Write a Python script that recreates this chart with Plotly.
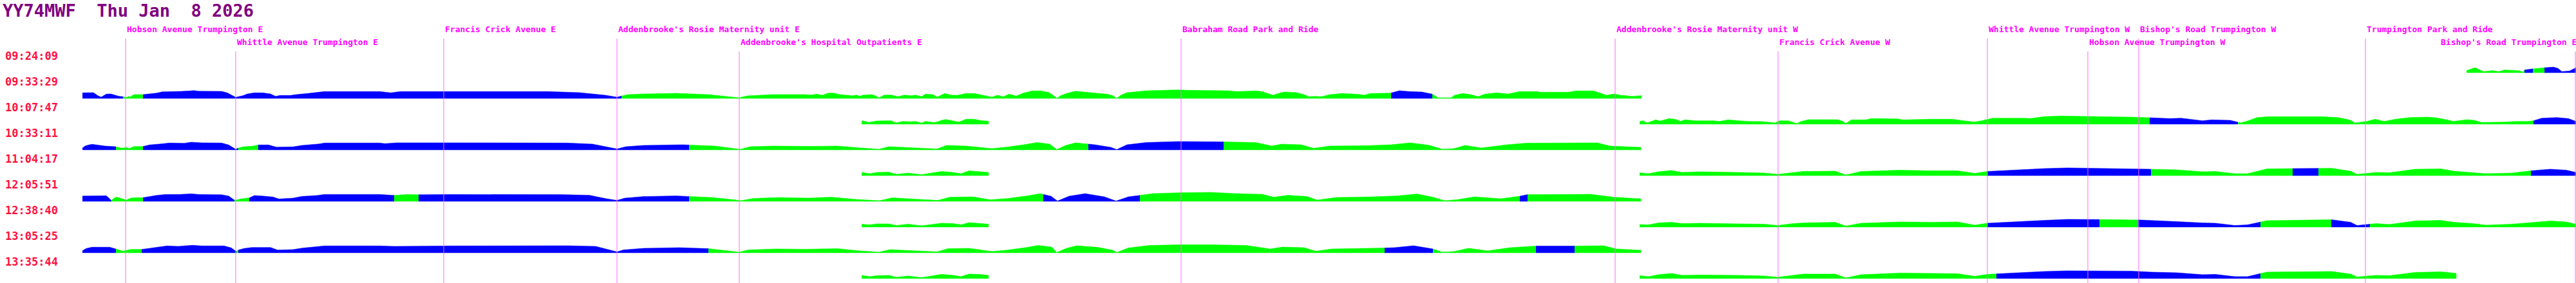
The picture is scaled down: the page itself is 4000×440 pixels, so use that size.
import numpy as np
import plotly.graph_objects as go

# vehicle / day header
title_text = "YY74MWF  Thu Jan  8 2026"

# stops along the route (position in route units, left to right)
stop_names = ["Hobson Avenue Trumpington E", "Whittle Avenue Trumpington E",
              "Francis Crick Avenue E", "Addenbrooke's Rosie Maternity unit E",
              "Addenbrooke's Hospital Outpatients E", "Babraham Road Park and Ride",
              "Addenbrooke's Rosie Maternity unit W", "Francis Crick Avenue W",
              "Whittle Avenue Trumpington W", "Hobson Avenue Trumpington W",
              "Bishop's Road Trumpington W", "Trumpington Park and Ride",
              "Bishop's Road Trumpington E"]
stop_pos = [195, 366, 689, 958, 1148, 1834, 2508, 2761, 3086, 3242, 3321, 3673, 3999]

# trip start times, one row each
trip_times = ["09:24:09", "09:33:29", "10:07:47", "10:33:11", "11:04:17",
              "12:05:51", "12:38:40", "13:05:25", "13:35:44"]

# speed profile of each trip: route position, speed, and colour runs (start position, b = late / g = on time)
t0_x = [3830, 3836, 3843, 3849, 3856, 3871, 3880, 3889, 3911, 3918, 3920, 3933, 3951, 3965, 3972, 3978, 3990, 4000]
t0_h = [3.3, 5.3, 7.7, 5.3, 1.7, 3.3, 1.7, 4.3, 3.3, 1, 4.3, 6, 7.7, 8.7, 6.7, 1.7, 2.7, 7.7]
t0_r = [(3830, "g"), (3920, "b"), (3933, "g"), (3951, "b")]

t1_x = [128, 145, 152, 157, 165, 172, 179, 185, 191, 196, 200, 202, 208, 222, 232, 243, 252, 268, 281, 295, 301, 308,
        344, 353, 359, 364, 366, 370, 377, 384, 395, 408, 420, 428, 435, 451, 460, 480, 491, 504, 589, 607, 616, 623,
        700, 850, 900, 940, 958, 975, 1000, 1050, 1100, 1140, 1148, 1160, 1200,
        1250, 1259, 1268, 1277, 1286, 1295, 1304, 1312, 1324, 1330, 1335, 1339, 1353, 1359,
        1365, 1373, 1384, 1395, 1404, 1415, 1422, 1431, 1437, 1449, 1455, 1467, 1478, 1487, 1500, 1513, 1525, 1531,
        1540, 1549, 1558, 1567, 1578, 1589, 1603, 1616, 1629, 1636, 1641, 1647, 1656, 1670, 1687, 1701, 1719, 1728,
        1734, 1741, 1750, 1768, 1781, 1808, 1830, 1844, 1906, 1920, 1949, 1958, 1971, 1977, 1985, 1994, 2012, 2025,
        2032, 2043, 2052, 2065, 2083, 2105, 2119, 2128, 2159, 2173, 2188, 2208, 2219, 2224, 2233, 2253, 2259,
        2271, 2284, 2295, 2306, 2324, 2342, 2360, 2387, 2391, 2436, 2447, 2474, 2485, 2494, 2507, 2516, 2525, 2534,
        2549]
t1_h = [8.7, 9, 4.3, 2, 6.7, 7, 5, 3.3, 2.7, 1.5, 3.3, 2, 6, 6, 7.3, 8.3, 10.3, 10.3, 11, 11.7, 12.3, 11.3,
        11, 8.7, 5.3, 2.7, 1.7, 2.7, 4.3, 7, 8.7, 8.7, 7, 3.3, 4.7, 4.7, 6, 8, 9.3, 10.7, 10.7, 8.7, 10, 10.7,
        10.7, 10.7, 9, 5, 2, 6, 7, 8, 6, 2, 1, 4, 6,
        6, 5.3, 6.7, 5, 8.3, 8.3, 6, 5.3, 4.3, 5.3, 3.3, 5, 6, 4.3,
        1, 5.3, 5.3, 2.7, 5.3, 4.3, 5.3, 2.7, 6.7, 6, 2, 7.7, 5, 5, 7.7, 7.7, 5, 4.3,
        2, 5, 2.7, 6.7, 3.7, 8.3, 11.7, 11.7, 9.3, 4.3, 0.3, 4.3, 7.7, 11.3, 9.3, 8.3, 6.7, 4.3,
        0.3, 5.3, 9, 10.7, 12, 12.7, 13.3, 12.7, 12, 10.7, 11.7, 11, 7.3, 5, 7.7, 10, 9.3, 6,
        2.7, 3.3, 2.7, 6, 7.7, 6.7, 5.3, 7.7, 8.3, 12, 10.7, 10, 7.7, 6.7, 1, 1, 5,
        7.7, 6, 2.7, 6.7, 8.7, 7, 10.7, 10.7, 9.7, 9.7, 11.7, 11.7, 8.3, 5, 7, 5, 4.3, 3.3,
        4.3]
t1_r = [(128, "b"), (191, "g"), (222, "b"), (965, "g"), (2160, "b"), (2224, "g")]

t2a_x = [1338, 1344, 1348, 1357, 1362, 1375, 1384, 1391, 1402, 1411, 1422, 1431, 1437, 1449, 1455, 1462, 1469, 1480,
         1489, 1500, 1513, 1522, 1535]
t2a_h = [5.3, 4.3, 2.7, 4.3, 5, 5.3, 5.3, 2, 4.3, 3.7, 4.3, 1.7, 4.3, 2.7, 3.3, 6, 7.3, 5, 3.3, 7.7, 7.7, 5.7, 4.7]
t2a_r = [(1338, "g")]
t2b_x = [2546, 2551, 2558, 2567, 2571, 2578, 2592, 2603, 2609, 2616, 2634, 2661, 2670, 2683, 2714, 2737, 2750, 2757,
         2763, 2777, 2790, 2797, 2808, 2853, 2862, 2866, 2875, 2897, 2906, 2946, 2955, 2996, 3031, 3049, 3065, 3076,
         3083, 3094, 3143, 3152, 3174, 3200, 3309, 3338, 3369, 3387, 3403, 3420, 3434, 3463, 3474, 3479, 3488,
         3505, 3523, 3604, 3630, 3648, 3657, 3666, 3675, 3688, 3702, 3720, 3742, 3769, 3782, 3800, 3809, 3831, 3842,
         3853, 3871, 3889, 3907, 3925, 3934, 3947, 3970, 3988, 4000]
t2b_h = [4.3, 5.3, 2, 5.3, 6.7, 5, 8.7, 7.3, 4.3, 6.7, 5.3, 5.3, 4.3, 6.7, 4.3, 4, 2.7, 2,
         5.3, 5.3, 1, 4.3, 7, 7, 4.3, 1, 6.7, 6.7, 8.7, 8.3, 6.7, 7.7, 7.7, 5.3, 3.3, 5,
         6.7, 9.3, 9.3, 8.7, 11.7, 12.7, 11, 10, 8.7, 9.3, 7.7, 5.3, 6.7, 6, 3.3, 2, 4.3,
         10.3, 11.7, 11.7, 10.3, 6.7, 2, 3.3, 4.3, 7.7, 4.3, 7.7, 10.3, 11, 10, 6.7, 4.3, 7, 6,
         2.7, 2.7, 3.3, 4.3, 4.3, 5.3, 9.3, 10.3, 8.7, 4.3]
t2b_r = [(2546, "g"), (3338, "b"), (3475, "g"), (3934, "b")]

t3_x = [128, 132, 138, 143, 163, 179, 183, 190, 196, 201, 208, 222, 232, 250, 263, 286, 297, 313, 344, 355, 362, 366,
        370, 377, 393, 401, 417, 429, 442, 455, 469, 482, 496, 504, 589, 598, 616, 700, 880, 920, 945, 958, 972, 1000,
        1060, 1110, 1140, 1150, 1165, 1200, 1260, 1300, 1330, 1365, 1380, 1430, 1455, 1470, 1500, 1540, 1560, 1590,
        1610, 1630, 1641, 1655, 1670, 1700, 1725, 1734, 1750, 1780, 1830, 1900, 1950, 1975, 1990, 2020, 2040, 2065,
        2120, 2160, 2190, 2220, 2240, 2258, 2275, 2300, 2340, 2370, 2440, 2480, 2500, 2548]
t3_h = [2.7, 6, 7.7, 8.7, 6, 5.3, 3.7, 2.7, 3.7, 2, 5.3, 5.3, 7.7, 9.3, 10.7, 10.3, 12, 11, 10.7, 7.7, 3.3, 1,
        2.7, 4.7, 6, 7.7, 7.7, 4.3, 4.7, 4.7, 7, 8, 9.3, 10.7, 10.7, 9.7, 11, 11, 10.7, 9, 4, 1.5, 5, 7,
        8, 6, 2, 1, 5, 6, 5.5, 6, 3.5, 1, 5, 3, 1.5, 7, 6, 2, 4, 8,
        11.5, 9, 0.5, 7, 11, 8, 4, 0.5, 8, 11.5, 13, 12.5, 11.5, 6, 9, 8, 2.5, 6,
        6.5, 8, 11, 7, 1, 2, 7, 3, 8, 10.5, 10.5, 11, 6, 4]
t3_r = [(128, "b"), (180, "g"), (222, "b"), (370, "g"), (401, "b"), (1070, "g"), (1690, "b"), (1900, "g")]

t4a_x = [1338, 1350, 1362, 1380, 1392, 1410, 1431, 1445, 1462, 1480, 1492, 1505, 1520, 1535]
t4a_h = [5, 3, 5, 5.5, 2, 4, 1.5, 4, 6.5, 5, 3, 7.5, 6, 5]
t4a_r = [(1338, "g")]
t4b_x = [2546, 2560, 2575, 2595, 2612, 2640, 2700, 2740, 2760, 2785, 2800, 2850, 2866, 2890, 2950, 3000, 3040, 3066,
         3086, 3140, 3175, 3210, 3310, 3340, 3380, 3420, 3440, 3470, 3490, 3520, 3620, 3650, 3660, 3690, 3710, 3750,
         3790, 3810, 3840, 3860, 3900, 3930, 3960, 3985, 4000]
t4b_h = [4.5, 3, 6, 8, 5, 6, 5, 4, 2, 5, 6.5, 7, 1, 6.5, 8.5, 7.5, 7.5, 3.5,
         6.5, 9.5, 11, 12, 11, 10, 9, 6, 6.5, 3, 3, 10.5, 11.5, 7, 2, 5, 4.5, 10,
         10.5, 7, 5, 3, 4, 7.5, 10, 8.5, 5]
t4b_r = [(2546, "g"), (3086, "b"), (3340, "g"), (3560, "b"), (3600, "g"), (3930, "b")]

t5_x = [128, 165, 170, 173, 176, 181, 188, 196, 203, 210, 222, 243, 257, 279, 297, 308, 344, 355, 362, 364, 366, 377,
        387, 395, 408, 424, 433, 442, 455, 469, 491, 504, 589, 612, 634, 650, 700, 870, 915, 942, 958, 970, 1000, 1050,
        1105, 1140, 1150, 1170, 1210, 1255, 1290, 1330, 1366, 1385, 1420, 1456, 1475, 1510, 1538, 1565, 1595, 1615,
        1632, 1642, 1660, 1685, 1715, 1733, 1752, 1790, 1835, 1880, 1920, 1960, 1978, 2000, 2030, 2045, 2075, 2130,
        2170, 2200, 2225, 2243, 2262, 2290, 2330, 2360, 2372, 2420, 2470, 2505, 2548]
t5_h = [8.3, 8.7, 4.3, 1.3, 4.3, 6.7, 4.3, 2, 5, 5.7, 5.7, 9.3, 10.7, 10.7, 11.7, 10.7, 10.3, 8.3, 3.3, 2, 2, 4.3,
        5.3, 9, 8.3, 6.7, 3.7, 4.3, 5, 7.7, 9, 10.7, 10.7, 9.3, 10.7, 10.3, 10.7, 10.5, 9.5, 4, 1.5, 5, 7.5, 8.5,
        6, 2.5, 1, 4.5, 6, 5, 6.5, 3, 1, 5.5, 3.5, 1.5, 6.5, 7, 2.5, 4.5, 8.5, 12,
        8, 0.5, 8, 12, 7, 0.5, 7, 12, 13.5, 14, 12, 11, 6.5, 9.5, 7.5, 2, 6, 7,
        8.5, 11.5, 6.5, 1, 2.5, 7, 4, 8, 10.5, 10.5, 11, 6.5, 4]
t5_r = [(128, "b"), (173, "g"), (222, "b"), (364, "g"), (387, "b"), (612, "g"), (650, "b"), (1070, "g"),
        (1620, "b"), (1770, "g"), (2360, "b"), (2372, "g")]

t6a_x = [1338, 1350, 1362, 1380, 1392, 1410, 1431, 1445, 1462, 1480, 1492, 1505, 1520, 1535]
t6a_h = [4.5, 3.5, 5, 5, 2.5, 4.5, 2, 3.5, 6, 5.5, 3.5, 7, 6, 4.5]
t6a_r = [(1338, "g")]
t6b_x = [2546, 2560, 2575, 2595, 2612, 2640, 2700, 2740, 2760, 2785, 2800, 2850, 2866, 2890, 2950, 3000, 3040, 3066,
         3086, 3140, 3175, 3210, 3310, 3340, 3380, 3420, 3440, 3470, 3490, 3520, 3620, 3650, 3660, 3690, 3710, 3750,
         3790, 3810, 3840, 3860, 3900, 3930, 3960, 3985, 4000]
t6b_h = [4, 3.5, 6.5, 7.5, 5.5, 6, 5, 4.5, 2.5, 5.5, 6.5, 7.5, 1.5, 6, 8, 7.5, 8, 3,
         6, 9, 10.5, 12, 11.5, 10.5, 8.5, 6.5, 6, 2.5, 3.5, 10, 11.5, 7.5, 2.5, 5.5, 4, 9.5,
         10.5, 7.5, 5.5, 3, 4.5, 7, 9.5, 8, 4.5]
t6b_r = [(2546, "g"), (3086, "b"), (3260, "g"), (3320, "b"), (3510, "g"), (3620, "b"), (3680, "g")]

t7_x = [128, 134, 143, 170, 180, 190, 196, 203, 220, 241, 259, 277, 299, 313, 348, 359, 365, 367, 370, 379, 391, 420,
        431, 455, 469, 482, 504, 589, 612, 700, 880, 925, 948, 958, 968, 1000, 1055, 1100, 1138, 1148, 1162, 1205,
        1250, 1300, 1335, 1365, 1382, 1425, 1455, 1472, 1505, 1540, 1562, 1592, 1612, 1633, 1641, 1656, 1672, 1705,
        1728, 1734, 1752, 1785, 1830, 1880, 1935, 1972, 1992, 2025, 2043, 2068, 2125, 2165, 2195, 2222, 2240, 2258,
        2280, 2310, 2345, 2385, 2445, 2490, 2510, 2548]
t7_h = [3.3, 6.7, 8.7, 8.7, 6, 2.7, 3.7, 5.3, 5.3, 8.3, 10.7, 10, 11.7, 10.7, 10.7, 7.7, 2.7, 2, 4.3, 6.7, 8.3, 8.3,
        4.3, 5, 7.3, 8.3, 10.7, 10.7, 10, 10.7, 11, 10, 4.5, 1.5, 4.5, 7, 8, 6.5, 2.5, 1, 4.5, 6,
        5.5, 6.5, 3, 1, 5, 3, 1.5, 6.5, 7, 2, 4, 8, 11.5, 9, 0.5, 7, 11, 8.5,
        4, 0.5, 7.5, 11.5, 12.5, 12.5, 11.5, 6, 9, 8, 2.5, 6, 6.5, 8, 11, 7, 1, 2,
        7, 3, 8, 10.5, 10.5, 11, 6, 4]
t7_r = [(128, "b"), (180, "g"), (220, "b"), (367, "g"), (370, "b"), (1100, "g"), (2150, "b"), (2225, "g"),
        (2385, "b"), (2445, "g")]

t8a_x = [1338, 1350, 1362, 1380, 1392, 1410, 1431, 1445, 1462, 1480, 1492, 1505, 1520, 1535]
t8a_h = [5, 3, 4.5, 5, 2, 4, 1.5, 3.5, 6.5, 5, 3, 7, 6.5, 5]
t8a_r = [(1338, "g")]
t8b_x = [2546, 2560, 2575, 2595, 2612, 2640, 2700, 2740, 2760, 2785, 2800, 2850, 2866, 2890, 2950, 3000, 3040, 3066,
         3086, 3140, 3175, 3210, 3310, 3340, 3380, 3420, 3440, 3470, 3490, 3520, 3620, 3650, 3660, 3690, 3710, 3750,
         3790, 3814]
t8b_h = [4.5, 3, 6, 8, 5, 5.5, 5, 4, 2, 5, 7, 7, 1, 6, 8.5, 8, 7.5, 3.5,
         6.5, 9.5, 11, 12, 11.5, 10, 9, 6, 6.5, 3, 3, 10, 11, 7, 2.5, 5, 4.5, 9.5,
         10.5, 8]
t8b_r = [(2546, "g"), (3100, "b"), (3510, "g")]

trips = [
    [(t0_x, t0_h, t0_r)],
    [(t1_x, t1_h, t1_r)],
    [(t2a_x, t2a_h, t2a_r), (t2b_x, t2b_h, t2b_r)],
    [(t3_x, t3_h, t3_r)],
    [(t4a_x, t4a_h, t4a_r), (t4b_x, t4b_h, t4b_r)],
    [(t5_x, t5_h, t5_r)],
    [(t6a_x, t6a_h, t6a_r), (t6b_x, t6b_h, t6b_r)],
    [(t7_x, t7_h, t7_r)],
    [(t8a_x, t8a_h, t8a_r), (t8b_x, t8b_h, t8b_r)],
]

colours = {"b": "#0000ff", "g": "#00ff00"}

W, H = 4000, 440
ROW0, ROW_STEP = 113, 40          # baseline of the first trip row and row pitch
MONO = "DejaVu Sans Mono"

fig = go.Figure()

# speed profiles, one filled area per colour run
for k, pieces in enumerate(trips):
    base = ROW0 + ROW_STEP * k
    for xs, hs, runs in pieces:
        for r, (start, code) in enumerate(runs):
            end = runs[r + 1][0] if r + 1 < len(runs) else xs[-1]
            a, b = max(start, xs[0]), min(end, xs[-1])
            px = [a] + [x for x in xs if a < x < b] + [b]
            ph = np.interp(px, xs, hs)
            py = [base - v for v in ph]
            fig.add_trace(go.Scatter(
                x=px + [b, a], y=py + [base, base],
                fill="toself", fillcolor=colours[code], mode="lines",
                line=dict(width=0.5, color=colours[code]), hoverinfo="skip", showlegend=False))

# vertical stop lines and staggered labels
char_w = 7.85
last_end = -1
for name, pos in zip(stop_names, stop_pos):
    start = min(pos, W - len(name) * char_w)
    tier = 0 if start > last_end else 1
    if tier == 0:
        last_end = start + len(name) * char_w
    fig.add_shape(type="line", x0=pos, x1=pos, y0=60 + 20 * tier, y1=H,
                  line=dict(color="#ff66ff", width=1), layer="above")
    fig.add_annotation(x=start, y=45 + 20 * tier, text=name, showarrow=False,
                       xanchor="left", yanchor="middle",
                       font=dict(family=MONO, size=13, color="#ff00ff", weight="bold"))

# trip start time labels
for k, t in enumerate(trip_times):
    fig.add_annotation(x=6, y=ROW0 + ROW_STEP * k - 26, text=t, showarrow=False,
                       xanchor="left", yanchor="middle",
                       font=dict(family=MONO, size=17, color="#ff1040", weight="bold"))

fig.add_annotation(x=2, y=16, text=title_text.replace(" ", "\u00a0"), showarrow=False,
                   xanchor="left", yanchor="middle",
                   font=dict(family=MONO, size=27, color="#800080", weight="bold"))

fig.update_layout(
    width=W, height=H, margin=dict(l=0, r=0, t=0, b=0),
    paper_bgcolor="white", plot_bgcolor="white",
    xaxis=dict(range=[0, W], visible=False, fixedrange=True),
    yaxis=dict(range=[H, 0], visible=False, fixedrange=True),
)

fig.write_html("out.html", config={"displayModeBar": False},
               post_script="document.body.style.margin='0';")
